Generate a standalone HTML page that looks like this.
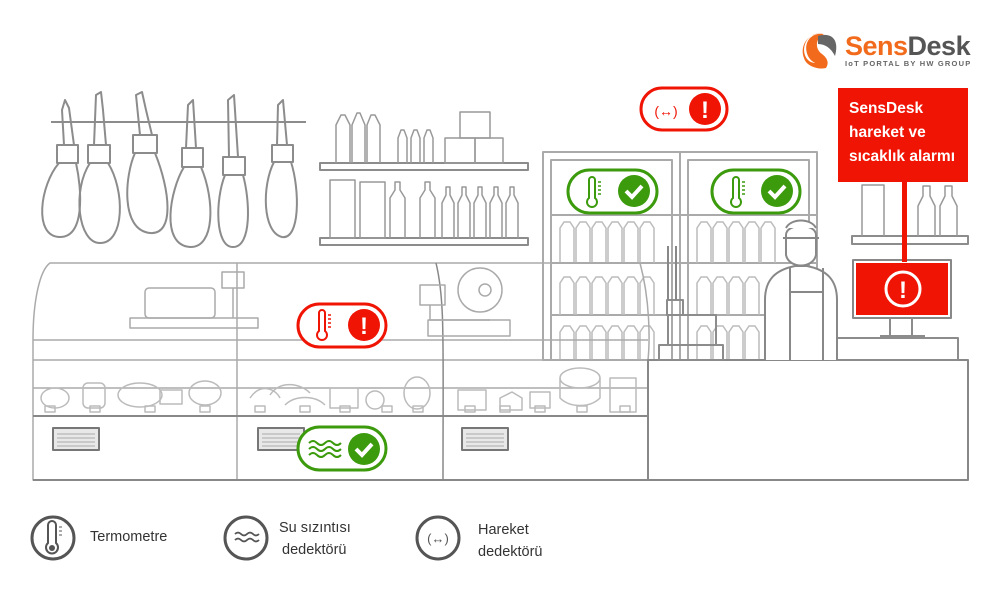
<!DOCTYPE html>
<html><head><meta charset="utf-8"><style>
html,body{margin:0;padding:0;background:#fff;width:1000px;height:595px;overflow:hidden}
svg{display:block}
text{font-family:"Liberation Sans","DejaVu Sans",sans-serif}
</style></head><body>
<svg width="1000" height="595" viewBox="0 0 1000 595" xmlns="http://www.w3.org/2000/svg">
<g fill="none" stroke="#8c8c8c" stroke-width="2" stroke-linejoin="round">
 <line x1="51" y1="122" x2="306" y2="122"/>
 <g>
  <path d="M64 145 L62 110 L65 100 L69 108 L74 145"/>
  <rect x="57" y="145" width="21" height="18"/>
  <path d="M59 163 C40 185 33 237 60 237 C85 237 82 190 76 163"/>
  <path d="M94 145 L96 95 L101 92 L103 110 L106 145"/>
  <rect x="88" y="145" width="22" height="18"/>
  <path d="M90 163 C72 190 78 243 100 243 C125 243 125 190 108 163"/>
  <path d="M140 135 L136 95 L142 92 L146 110 L152 135"/>
  <rect x="133" y="135" width="24" height="18"/>
  <path d="M135 153 C125 175 120 230 150 233 C175 235 170 190 155 153"/>
  <path d="M186 148 L188 105 L193 100 L196 148"/>
  <rect x="182" y="148" width="21" height="19"/>
  <path d="M184 167 C170 190 160 245 190 247 C215 248 215 200 201 167"/>
  <path d="M229 157 L228 100 L234 95 L238 157"/>
  <rect x="223" y="157" width="22" height="18"/>
  <path d="M225 175 C215 200 215 247 233 247 C252 247 250 200 243 175"/>
  <path d="M277 145 L278 105 L283 100 L287 145"/>
  <rect x="272" y="145" width="21" height="17"/>
  <path d="M274 162 C262 185 262 232 282 237 C300 240 300 190 291 162"/>
 </g>
 <rect x="320" y="163" width="208" height="7"/>
 <rect x="320" y="238" width="208" height="7"/>
 <g stroke="#999" stroke-width="1.5">
  <path d="M336 163 V125 l5-10 h4 l5 10 V163 M352 163 V125 l5-12 h3 l5 12 V163 M367 163 V125 l4-10 h4 l5 10 V163"/>
  <path d="M398 163 v-25 l3-8 h3 l3 8 v25 M411 163 v-25 l3-8 h3 l3 8 v25 M424 163 v-25 l3-8 h3 l3 8 v25"/>
  <rect x="445" y="138" width="30" height="25"/><rect x="460" y="112" width="30" height="26"/><rect x="475" y="138" width="28" height="25"/>
  <rect x="330" y="180" width="25" height="58"/><rect x="360" y="182" width="25" height="56"/>
  <path d="M390 238 v-40 l5-8 v-8 h5 v8 l5 8 v40 M420 238 v-40 l5-8 v-8 h5 v8 l5 8 v40 M442 238 v-35 l4-8 v-8 h4 v8 l4 8 v35 M458 238 v-35 l4-8 v-8 h4 v8 l4 8 v35 M474 238 v-35 l4-8 v-8 h4 v8 l4 8 v35 M490 238 v-35 l4-8 v-8 h4 v8 l4 8 v35 M506 238 v-35 l4-8 v-8 h4 v8 l4 8 v35"/>
 </g>
 <g stroke="#aaa" stroke-width="2">
  <rect x="543" y="152" width="137" height="208"/>
  <rect x="680" y="152" width="137" height="208"/>
  <rect x="551" y="160" width="121" height="200"/>
  <rect x="688" y="160" width="121" height="200"/>
  <line x1="551" y1="263" x2="817" y2="263"/><line x1="551" y1="315" x2="817" y2="315"/><line x1="551" y1="215" x2="817" y2="215"/>
 </g>
 <g stroke="#bbb" stroke-width="1.5">
  <path d="M560 263 v-35 l4-6 h6 l4 6 v35 M576 263 v-35 l4-6 h6 l4 6 v35 M592 263 v-35 l4-6 h6 l4 6 v35 M608 263 v-35 l4-6 h6 l4 6 v35 M624 263 v-35 l4-6 h6 l4 6 v35 M640 263 v-35 l4-6 h6 l4 6 v35"/>
  <path d="M697 263 v-35 l4-6 h6 l4 6 v35 M713 263 v-35 l4-6 h6 l4 6 v35 M729 263 v-35 l4-6 h6 l4 6 v35 M745 263 v-35 l4-6 h6 l4 6 v35 M761 263 v-35 l4-6 h6 l4 6 v35"/>
  <path d="M560 315 v-32 l4-6 h6 l4 6 v32 M576 315 v-32 l4-6 h6 l4 6 v32 M592 315 v-32 l4-6 h6 l4 6 v32 M608 315 v-32 l4-6 h6 l4 6 v32 M624 315 v-32 l4-6 h6 l4 6 v32 M640 315 v-32 l4-6 h6 l4 6 v32"/>
  <path d="M697 315 v-32 l4-6 h6 l4 6 v32 M713 315 v-32 l4-6 h6 l4 6 v32 M729 315 v-32 l4-6 h6 l4 6 v32 M745 315 v-32 l4-6 h6 l4 6 v32"/>
  <path d="M560 360 v-28 l4-6 h6 l4 6 v28 M576 360 v-28 l4-6 h6 l4 6 v28 M592 360 v-28 l4-6 h6 l4 6 v28 M608 360 v-28 l4-6 h6 l4 6 v28 M624 360 v-28 l4-6 h6 l4 6 v28 M640 360 v-28 l4-6 h6 l4 6 v28"/>
  <path d="M697 360 v-28 l4-6 h6 l4 6 v28 M713 360 v-28 l4-6 h6 l4 6 v28 M729 360 v-28 l4-6 h6 l4 6 v28 M745 360 v-28 l4-6 h6 l4 6 v28"/>
 </g>
 <rect x="852" y="236" width="116" height="8"/>
 <path d="M862 236 V185 h22 V236 M918 236 v-30 l5-10 v-10 h7 v10 l5 10 v30 M940 236 v-30 l5-10 v-10 h7 v10 l5 10 v30" stroke="#999" stroke-width="1.5"/>
 <g stroke="#aaa" stroke-width="1.5">
  <path d="M33 340 C33 300 40 270 50 263 H640 C650 300 650 340 648 360"/>
  <line x1="33" y1="340" x2="648" y2="340"/>
  <line x1="33" y1="360" x2="648" y2="360"/>
  <line x1="33" y1="388" x2="648" y2="388"/>
  <line x1="237" y1="263" x2="237" y2="480"/>
  <path d="M436 263 C445 300 443 340 443 480" stroke="#888"/>
  <path d="M33 340 V480 H648"/>
 </g>
 <line x1="33" y1="416" x2="648" y2="416" stroke="#888" stroke-width="2"/>
 <line x1="33" y1="480" x2="968" y2="480" stroke="#888" stroke-width="2"/>
 <g stroke="#777" stroke-width="2" fill="#e8e8e8">
  <rect x="53" y="428" width="46" height="22"/><rect x="258" y="428" width="46" height="22"/><rect x="462" y="428" width="46" height="22"/>
 </g>
 <g stroke="#aaa" stroke-width="1">
  <path d="M57 434 h38 M57 438 h38 M57 442 h38 M57 446 h38 M262 434 h38 M262 438 h38 M262 442 h38 M262 446 h38 M466 434 h38 M466 438 h38 M466 442 h38 M466 446 h38"/>
 </g>
 <g stroke="#bbb" stroke-width="1.5">
  <ellipse cx="55" cy="398" rx="14" ry="10"/><rect x="83" y="383" width="22" height="25" rx="5"/>
  <ellipse cx="140" cy="395" rx="22" ry="12"/><rect x="160" y="390" width="22" height="14"/><ellipse cx="205" cy="393" rx="16" ry="12"/>
  <path d="M250 398 c10-15 25-10 30 0 M270 395 c10-15 30-12 40 -2 M285 405 c10-10 30-10 40 0"/>
  <rect x="330" y="388" width="28" height="20"/><circle cx="375" cy="400" r="9"/><ellipse cx="417" cy="393" rx="13" ry="16"/>
  <rect x="458" y="390" width="28" height="20"/><path d="M500 398 l12-6 l10 6 v12 h-22z"/><rect x="530" y="392" width="20" height="16"/>
  <ellipse cx="580" cy="378" rx="20" ry="10"/><path d="M560 378 v20 c10 10 30 10 40 0 v-20"/><rect x="610" y="378" width="26" height="34"/>
  <path d="M45 406 h10 v6 h-10z M90 406 h10 v6 h-10z M145 406 h10 v6 h-10z M200 406 h10 v6 h-10z M255 406 h10 v6 h-10z M300 406 h10 v6 h-10z M340 406 h10 v6 h-10z M382 406 h10 v6 h-10z M413 406 h10 v6 h-10z M465 406 h10 v6 h-10z M500 406 h10 v6 h-10z M535 406 h10 v6 h-10z M577 406 h10 v6 h-10z M620 406 h10 v6 h-10z"/>
 </g>
 <g stroke="#aaa" stroke-width="1.5">
  <rect x="130" y="318" width="128" height="10"/><rect x="145" y="288" width="70" height="30" rx="4"/>
  <rect x="222" y="272" width="22" height="16"/><line x1="233" y1="288" x2="233" y2="318"/>
  <rect x="428" y="320" width="82" height="16"/><circle cx="480" cy="290" r="22"/><circle cx="485" cy="290" r="6"/>
  <rect x="420" y="285" width="25" height="20"/><path d="M430 305 v15 h60"/>
 </g>
 <rect x="648" y="360" width="320" height="120" stroke="#888" stroke-width="2"/>
 <rect x="830" y="338" width="128" height="22"/>
 <rect x="659" y="345" width="64" height="15"/><rect x="668" y="315" width="48" height="30"/>
 <rect x="667" y="300" width="16" height="15"/>
 <path d="M668 246 V300 M676 246 V300" stroke="#888"/>
 <rect x="853" y="260" width="98" height="58" stroke="#888"/>
 <path d="M890 318 v18 M912 318 v18 M880 336 h45"/>
 <g stroke="#888" stroke-width="2" fill="#fff">
  <path d="M765 360 v-60 c0-20 10-30 30-34 h12 c20 4 30 14 30 34 v60"/>
  <path d="M786 235 c0-12 30-12 30 0 v20 c-3 14 -27 14 -30 0z"/>
  <path d="M783 238 h36 M786 228 c5-10 25-10 30 0"/>
  <path d="M790 268 v92 M823 268 v92 M790 292 h33"/>
 </g>
</g>

<!-- logo -->
<path d="M822 33 C804 33 800 52 808 60 C814 66 822 60 826 68 C818 70 806 66 804 58 C800 48 805 34 822 33 Z" fill="#f26a1b"/>
<path d="M808 56 c-6 -14 4 -24 16 -22 c-8 4 -10 14 -2 20 c4 3 8 8 4 14 c-6 -4 -14 -4 -18 -12z" fill="#f26a1b"/>
<path d="M818 36 c12 -4 22 2 17 20 c-4 -8 -10 -12 -17 -12 z" fill="#666"/>
<text x="845" y="55" font-size="27" font-weight="bold" fill="#f26a1b" letter-spacing="-0.5">Sens<tspan fill="#555">Desk</tspan></text>
<text x="845" y="66" font-size="7.5" font-weight="bold" fill="#666" letter-spacing="1.2">IoT PORTAL BY HW GROUP</text>

<rect x="838" y="88" width="130" height="94" fill="#f01405"/>
<text font-size="15.5" font-weight="bold" fill="#fff"><tspan x="849" y="113">SensDesk</tspan><tspan x="849" y="137">hareket ve</tspan><tspan x="849" y="161">sıcaklık alarmı</tspan></text>
<rect x="902" y="182" width="5" height="80" fill="#f01405"/>
<rect x="856" y="263" width="92" height="52" fill="#f01405"/>
<circle cx="903" cy="289" r="17" fill="none" stroke="#fff" stroke-width="3"/>
<text x="903" y="298" font-size="24" font-weight="bold" fill="#fff" text-anchor="middle">!</text>

<g>
 <rect x="641" y="88" width="86" height="42" rx="21" fill="#fff" stroke="#f01405" stroke-width="3"/>
 <text x="666" y="116" font-size="14" fill="#f01405" text-anchor="middle">(↔)</text>
 <circle cx="705" cy="109" r="16" fill="#f01405"/><text x="705" y="118" font-size="24" font-weight="bold" fill="#fff" text-anchor="middle">!</text>

 <rect x="298" y="304" width="88" height="43" rx="21.5" fill="#fff" stroke="#f01405" stroke-width="3"/>
 <g stroke="#f01405" stroke-width="2" fill="none"><path d="M319 313 v18 a5 5 0 1 0 6 0 v-18 a3 3 0 0 0 -6 0z"/></g>
 <path d="M328 315 h3 M328 319 h3 M328 323 h3 M328 327 h3" stroke="#f01405" stroke-width="1.5"/>
 <circle cx="364" cy="325" r="16" fill="#f01405"/><text x="364" y="334" font-size="24" font-weight="bold" fill="#fff" text-anchor="middle">!</text>

 <rect x="568" y="170" width="89" height="43" rx="21.5" fill="#fff" stroke="#3c9a0d" stroke-width="3"/>
 <path d="M589 180 v18 a5 5 0 1 0 6 0 v-18 a3 3 0 0 0 -6 0z" stroke="#3c9a0d" stroke-width="2" fill="none"/>
 <path d="M598 182 h3 M598 186 h3 M598 190 h3 M598 194 h3" stroke="#3c9a0d" stroke-width="1.5"/>
 <circle cx="634" cy="191" r="16" fill="#3c9a0d"/><path d="M626 191 l6 6 l10 -11" stroke="#fff" stroke-width="4" fill="none"/>

 <rect x="712" y="170" width="88" height="43" rx="21.5" fill="#fff" stroke="#3c9a0d" stroke-width="3"/>
 <path d="M733 180 v18 a5 5 0 1 0 6 0 v-18 a3 3 0 0 0 -6 0z" stroke="#3c9a0d" stroke-width="2" fill="none"/>
 <path d="M742 182 h3 M742 186 h3 M742 190 h3 M742 194 h3" stroke="#3c9a0d" stroke-width="1.5"/>
 <circle cx="777" cy="191" r="16" fill="#3c9a0d"/><path d="M769 191 l6 6 l10 -11" stroke="#fff" stroke-width="4" fill="none"/>

 <rect x="298" y="427" width="88" height="43" rx="21.5" fill="#fff" stroke="#3c9a0d" stroke-width="3"/>
 <path d="M309 443 q4-4 8 0 t8 0 t8 0 t8 0 M309 449 q4-4 8 0 t8 0 t8 0 t8 0 M309 455 q4-4 8 0 t8 0 t8 0 t8 0" stroke="#3c9a0d" stroke-width="2" fill="none"/>
 <circle cx="364" cy="449" r="16" fill="#3c9a0d"/><path d="M356 449 l6 6 l10 -11" stroke="#fff" stroke-width="4" fill="none"/>
</g>

<g stroke="#555" stroke-width="3" fill="none">
 <circle cx="53" cy="538" r="21"/><circle cx="246" cy="538" r="21"/><circle cx="438" cy="538" r="21"/>
</g>
<path d="M48 525 v18 a6 6 0 1 0 8 0 v-18 a4 4 0 0 0 -8 0z" stroke="#555" stroke-width="2" fill="none"/>
<circle cx="52" cy="548" r="3" fill="#555"/>
<path d="M59 527 h3 M59 531 h3 M59 535 h3" stroke="#555" stroke-width="1"/>
<path d="M235 534 q3-3 6 0 t6 0 t6 0 t6 0 M235 540 q3-3 6 0 t6 0 t6 0 t6 0" stroke="#555" stroke-width="1.8" fill="none"/>
<text x="438" y="543" font-size="13" fill="#555" text-anchor="middle">(↔)</text>
<g font-size="14.5" fill="#333">
 <text x="90" y="541">Termometre</text>
 <text x="279" y="532">Su sızıntısı</text><text x="282" y="554">dedektörü</text>
 <text x="478" y="534">Hareket</text><text x="478" y="556">dedektörü</text>
</g>
</svg>
</body></html>
